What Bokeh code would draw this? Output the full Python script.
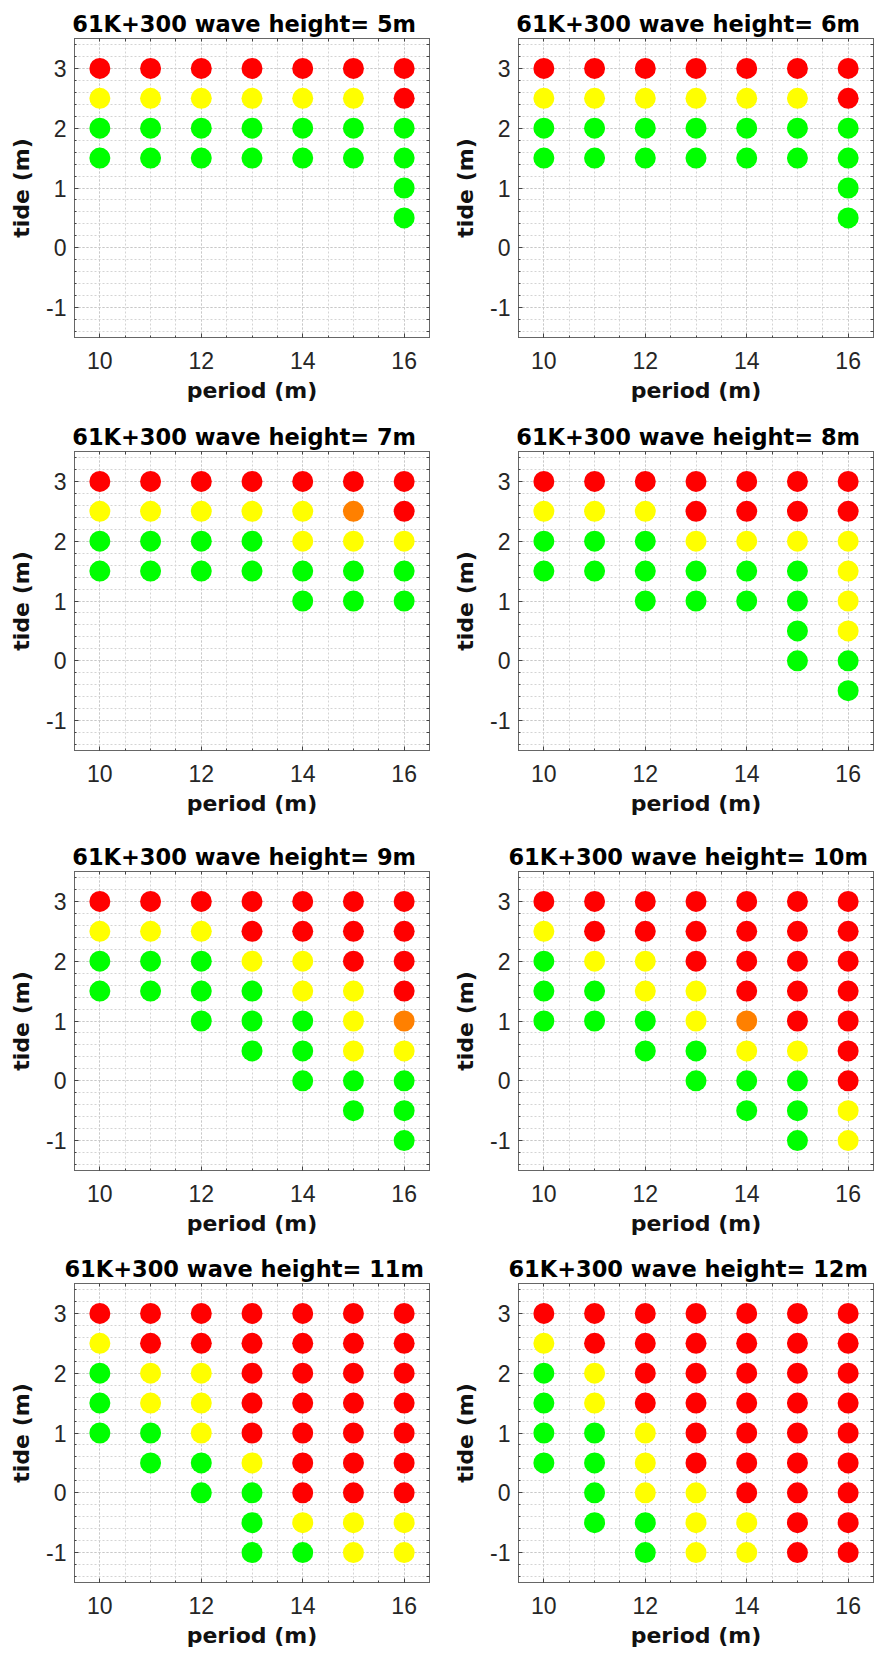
from bokeh.plotting import figure
from bokeh.layouts import column, row
from bokeh.models import FixedTicker, LinearAxis, Range1d, ColumnDataSource
from bokeh.embed import file_html
from bokeh.resources import INLINE

# ---------------- data ----------------
station = "61K+300"
wave_heights = [5, 6, 7, 8, 9, 10, 11, 12]
periods = [10, 11, 12, 13, 14, 15, 16]
tides = [3.0, 2.5, 2.0, 1.5, 1.0, 0.5, 0.0, -0.5, -1.0]

x_ticks = [10, 12, 14, 16]
x_tick_labels = ["10", "12", "14", "16"]
y_ticks = [-1, 0, 1, 2, 3]
y_tick_labels = ["-1", "0", "1", "2", "3"]

# one string per period (10..16); letters give the status from tide 3 m downward
# in 0.5 m steps: R = red, O = orange, Y = yellow, G = green
status_5m = ["RYGG", "RYGG", "RYGG", "RYGG", "RYGG", "RYGG", "RRGGGG"]
status_6m = ["RYGG", "RYGG", "RYGG", "RYGG", "RYGG", "RYGG", "RRGGGG"]
status_7m = ["RYGG", "RYGG", "RYGG", "RYGG", "RYYGG", "ROYGG", "RRYGG"]
status_8m = ["RYGG", "RYGG", "RYGGG", "RRYGG", "RRYGG", "RRYGGGG", "RRYYYYGG"]
status_9m = ["RYGG", "RYGG", "RYGGG", "RRYGGG", "RRYYGGG", "RRRYYYGG", "RRRROYGGG"]
status_10m = ["RYGGG", "RRYGG", "RRYYGG", "RRRYYGG", "RRRROYGG", "RRRRRYGGG", "RRRRRRRYY"]
status_11m = ["RYGGG", "RRYYGG", "RRYYYGG", "RRRRRYGGG", "RRRRRRRYG", "RRRRRRRYY", "RRRRRRRYY"]
status_12m = ["RYGGGG", "RRYYGGGG", "RRRRYYYGG", "RRRRRRYYY", "RRRRRRRYY", "RRRRRRRRR", "RRRRRRRRR"]

statuses = [status_5m, status_6m, status_7m, status_8m,
            status_9m, status_10m, status_11m, status_12m]

status_colors = {"R": "#ff0000", "O": "#ff8000", "Y": "#ffff00", "G": "#00ff00"}

# ---------------- styling ----------------
TICK_FONT = "Liberation Sans"
BOLD_FONT = "DejaVu Sans"
row_heights = [413, 420, 412, 414]
fig_width = 441
left_borders = [74, 77]
right_borders = [12, 9]
top_border = 38
frame_h = 299

x_minor = [round(9.5 + 0.5 * i, 1) for i in range(15)]
y_minor = [round(-1.4 + 0.2 * i, 1) for i in range(25)]


def style_axis(ax):
    ax.axis_line_color = "#666666"
    ax.major_tick_line_color = "#444444"
    ax.minor_tick_line_color = "#444444"
    ax.major_tick_in = 4
    ax.major_tick_out = 0
    ax.minor_tick_in = 2
    ax.minor_tick_out = 0


def make_panel(idx, col, height):
    bottom = height - top_border - frame_h
    p = figure(width=fig_width, height=height, output_backend="svg",
               toolbar_location=None,
               x_range=Range1d(9.5, 16.5), y_range=Range1d(-1.5, 3.5),
               min_border_left=left_borders[col], min_border_right=right_borders[col],
               min_border_top=top_border, min_border_bottom=bottom)
    p.outline_line_color = "#666666"
    p.background_fill_color = "white"
    p.border_fill_color = "white"

    xs, ys, cs = [], [], []
    for per, col_status in zip(periods, statuses[idx]):
        for tide, code in zip(tides, col_status):
            xs.append(per)
            ys.append(tide)
            cs.append(status_colors[code])
    src = ColumnDataSource(dict(x=xs, y=ys, c=cs))
    p.scatter("x", "y", source=src, size=21, fill_color="c", line_color=None)

    xa, ya = p.xaxis[0], p.yaxis[0]
    xa.ticker = FixedTicker(ticks=x_ticks, minor_ticks=x_minor)
    ya.ticker = FixedTicker(ticks=y_ticks, minor_ticks=y_minor)
    xa.major_label_overrides = {t: l for t, l in zip(x_ticks, x_tick_labels)}
    ya.major_label_overrides = {t: l for t, l in zip(y_ticks, y_tick_labels)}
    for ax in (xa, ya):
        style_axis(ax)
        ax.major_label_text_font = TICK_FONT
        ax.major_label_text_font_size = "23px"
        ax.major_label_text_color = "#262626"
        ax.axis_label_text_font = BOLD_FONT
        ax.axis_label_text_font_size = "22px"
        ax.axis_label_text_font_style = "bold"
        ax.axis_label_text_color = "#111111"
    xa.axis_label = "period (m)"
    ya.axis_label = "tide (m)"
    xa.major_label_standoff = 14
    ya.major_label_standoff = 8
    xa.axis_label_standoff = 6
    ya.axis_label_standoff = 9

    # tick marks only (no labels) on top and right edges of the box
    top_ax = LinearAxis(ticker=FixedTicker(ticks=[], minor_ticks=x_minor))
    right_ax = LinearAxis(ticker=FixedTicker(ticks=[], minor_ticks=y_minor))
    for ax in (top_ax, right_ax):
        style_axis(ax)
        ax.minor_tick_in = 3
        ax.major_label_standoff = 0
    p.add_layout(top_ax, "above")
    p.add_layout(right_ax, "right")

    for g in (p.xgrid[0], p.ygrid[0]):
        g.grid_line_color = "#c8c8c8"
        g.grid_line_dash = "2 2"
        g.minor_grid_line_color = "#d4d4d4"
        g.minor_grid_line_dash = "2 2"

    p.title.text = f"{station}   wave height= {wave_heights[idx]}m"
    p.title.text_font = BOLD_FONT
    p.title.text_font_size = "22.5px"
    p.title.text_font_style = "bold"
    p.title.text_color = "#000000"
    p.title.align = "center"
    p.title.standoff = 4
    return p


rows = []
for r in range(4):
    figs = [make_panel(2 * r + c, c, row_heights[r]) for c in range(2)]
    rows.append(row(*figs))
layout = column(*rows)

open("out.html", "w").write(file_html(layout, INLINE))
